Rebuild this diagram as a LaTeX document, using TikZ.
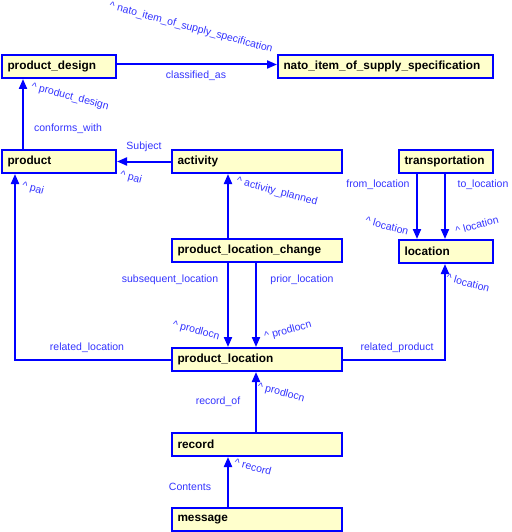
\documentclass[tikz,border=0pt]{standalone}
\usepackage{fontspec}
\setmainfont{Liberation Sans}
\usetikzlibrary{positioning,arrows.meta}

\definecolor{BoxFill}{RGB}{255,255,204}
\definecolor{LinkBlue}{RGB}{0,0,255}
\definecolor{LabelBlue}{RGB}{51,51,255}

\tikzset{
	EntityBox/.style={draw=LinkBlue, fill=BoxFill, line width=2pt, anchor=north west,
		minimum height=23pt, inner xsep=5.5pt, inner ysep=0pt, align=left,
		font=\fontsize{11.8}{13}\selectfont\bfseries},
	Link/.style={draw=LinkBlue, line width=2pt, -{Triangle[length=10pt,width=8pt]}},
	RoleLabel/.style={text=LabelBlue, inner sep=0pt, font=\fontsize{10.5}{12}\selectfont}
}

\begin{document}
\begin{tikzpicture}[x=1pt,y=-1pt]
			\pgfmathsetmacro{\SmallBoxWidth}{114}
			\pgfmathsetmacro{\WideBoxWidth}{170}
			\pgfmathsetmacro{\TinyBoxWidth}{94}
			\useasboundingbox (0,0) rectangle (511,532);
			
			\coordinate(ConformsX) at (23,0);
			\coordinate(RelatedLocX) at (15,0);
			\coordinate(LeftLineX) at (228,0);
			\coordinate(RightLineX) at (256,0);
			\coordinate(FromLocX) at (417,0);
			\coordinate(ToLocX) at (445,0);
			
			\node[EntityBox, text width=\SmallBoxWidth pt-11pt] (ProductDesign) at (1,54) {product\_design};
			\node[EntityBox, text width=215pt-11pt] (NatoItem) at (277,54) {nato\_item\_of\_supply\_specification};
			\node[EntityBox, text width=\SmallBoxWidth pt-11pt] (Product) at (1,149) {product};
			\node[EntityBox, text width=\WideBoxWidth pt-11pt] (Activity) at (171,149) {activity};
			\node[EntityBox, text width=\TinyBoxWidth pt-11pt] (Transportation) at (398,149) {transportation};
			\node[EntityBox, text width=\WideBoxWidth pt-11pt] (LocationChange) at (171,238) {product\_location\_change};
			\node[EntityBox, text width=\TinyBoxWidth pt-11pt] (Location) at (398,239) {location};
			\node[EntityBox, text width=\WideBoxWidth pt-11pt] (ProductLocation) at (171,347) {product\_location};
			\node[EntityBox, text width=\WideBoxWidth pt-11pt] (Record) at (171,432) {record};
			\node[EntityBox, text width=\WideBoxWidth pt-11pt] (Message) at (171,507) {message};
			
			\draw[Link] ([yshift=2pt]ProductDesign.east) -- ([yshift=2pt]NatoItem.west);
			\draw[Link] (Product.north -| ConformsX) -- (ProductDesign.south -| ConformsX);
			\draw[Link] (Activity) -- (Product);
			\draw[Link] (ProductLocation.west) -| (RelatedLocX |- Product.south);
			\draw[Link] (LocationChange.north -| LeftLineX) -- (Activity.south -| LeftLineX);
			\draw[Link] (LocationChange.south -| LeftLineX) -- (ProductLocation.north -| LeftLineX);
			\draw[Link] (LocationChange.south -| RightLineX) -- (ProductLocation.north -| RightLineX);
			\draw[Link] (Transportation.south -| FromLocX) -- (Location.north -| FromLocX);
			\draw[Link] (Transportation.south -| ToLocX) -- (Location.north -| ToLocX);
			\draw[Link] (ProductLocation.east) -| (ToLocX |- Location.south);
			\draw[Link] (Record.north -| RightLineX) -- (ProductLocation.south -| RightLineX);
			\draw[Link] (Message.north -| LeftLineX) -- (Record.south -| LeftLineX);
			
			\node[RoleLabel] (ClassifiedLbl) at (196,76) {classified\_as};
			\node[RoleLabel, rotate=-15] (NatoRoleLbl) at (191,28) {\textasciicircum{} nato\_item\_of\_supply\_specification};
			\node[RoleLabel, rotate=-15] (DesignRoleLbl) at (70,97) {\textasciicircum{} product\_design};
			\node[RoleLabel] (ConformsLbl) at (68,129) {conforms\_with};
			\node[RoleLabel] (SubjectLbl) at (144,147) {Subject};
			\node[RoleLabel, rotate=-15] (PaiTopLbl) at (131,178) {\textasciicircum{} pai};
			\node[RoleLabel, rotate=-15] (PaiLeftLbl) at (33,189) {\textasciicircum{} pai};
			\node[RoleLabel, rotate=-15] (PlannedLbl) at (277,192) {\textasciicircum{} activity\_planned};
			\node[RoleLabel] (FromLbl) at (378,185) {from\_location};
			\node[RoleLabel] (ToLbl) at (483,185) {to\_location};
			\node[RoleLabel, rotate=-15] (FromRoleLbl) at (387,226) {\textasciicircum{} location};
			\node[RoleLabel, rotate=15] (ToRoleLbl) at (477,225) {\textasciicircum{} location};
			\node[RoleLabel] (SubsequentLbl) at (170,280) {subsequent\_location};
			\node[RoleLabel] (PriorLbl) at (302,280) {prior\_location};
			\node[RoleLabel, rotate=-15] (SubsequentRoleLbl) at (196,331) {\textasciicircum{} prodlocn};
			\node[RoleLabel, rotate=15] (PriorRoleLbl) at (288,331) {\textasciicircum{} prodlocn};
			\node[RoleLabel] (RelLocLbl) at (87,348) {related\_location};
			\node[RoleLabel] (RelProdLbl) at (397,348) {related\_product};
			\node[RoleLabel, rotate=-15] (RelProdRoleLbl) at (468,283) {\textasciicircum{} location};
			\node[RoleLabel] (RecordOfLbl) at (218,402) {record\_of};
			\node[RoleLabel, rotate=-15] (RecordOfRoleLbl) at (281,393) {\textasciicircum{} prodlocn};
			\node[RoleLabel] (ContentsLbl) at (190,487) {Contents};
			\node[RoleLabel, rotate=-15] (ContentsRoleLbl) at (253,467) {\textasciicircum{} record};
		\end{tikzpicture}
\end{document}
